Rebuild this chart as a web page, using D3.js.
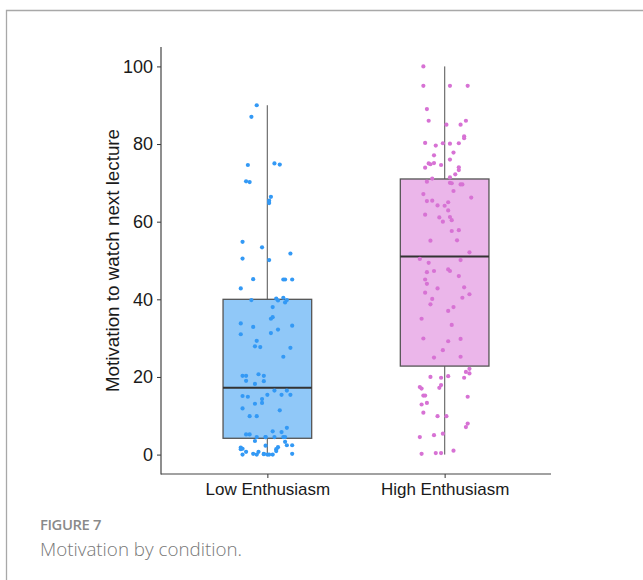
<!DOCTYPE html>
<html><head><meta charset="utf-8">
<script src="https://cdn.jsdelivr.net/npm/d3@7"></script>
<style>html,body{margin:0;padding:0;background:#fff;}svg{display:block;}</style>
</head><body>
<div id="chart"></div>
<script>
// ---- data ----
const categories = ["Low Enthusiasm", "High Enthusiasm"];
const yTicks = [0, 20, 40, 60, 80, 100];
// box stats: [whiskerLow, q1, median, q3, whiskerHigh]
const lowBox  = [0, 4.2, 17.2, 40.0, 90];
const highBox = [0, 22.8, 51.0, 71.0, 100];
// jittered points: [jitter offset (category units), value]
const lowPoints = [
 [-0.06,90],[-0.09,87],[0.04,75],[0.07,74.7],[-0.11,74.6],[-0.12,70.4],[-0.10,70.2],[0.02,66.4],[0.01,65.4],[0.01,64.8],
 [-0.14,54.8],[-0.03,53.4],[0.13,51.8],[-0.14,50.5],[0.01,50.1],[-0.08,45.2],[0.09,45.1],[0.10,45.1],[0.14,45.1],[-0.15,42.8],
 [-0.09,39.8],[0.05,40.2],[0.06,39.7],[0.09,40.4],[0.10,39.2],[0.11,39.8],[0.03,38],[0.02,35],[0.03,35.4],[-0.15,33.8],
 [0.14,33.2],[-0.08,32.9],[-0.15,31],[0.06,32.2],[0.02,31.3],[-0.06,29.3],[-0.07,27.9],[-0.04,27.7],[0.13,27.5],[0.09,25.2],
 [-0.14,20.3],[-0.12,20.3],[-0.05,20.7],[-0.02,20.3],[-0.12,19],[-0.02,18.9],[-0.07,18.2],[0.04,16.5],[0.11,16.5],[-0.14,15.1],
 [-0.11,14.9],[0.00,15.4],[0.08,15.4],[0.13,15.4],[-0.03,14.3],[-0.03,13.3],[-0.07,13.1],[-0.14,11.9],[0.07,11.4],[-0.10,9.9],
 [-0.06,9.9],[0.11,6.9],[0.03,6],[0.08,5.8],[-0.12,5.2],[-0.10,5.2],[-0.06,4.5],[-0.01,4.5],[-0.01,4.5],[0.04,4.5],
 [0.09,4.5],[0.10,4.5],[-0.07,3.5],[0.10,3.3],[-0.01,2.3],[0.11,2.4],[0.14,2.4],[-0.15,1.8],[-0.14,1.5],[-0.15,1.4],
 [0.06,1.9],[0.05,1.4],[0.05,0.9],[-0.12,0.7],[-0.08,0.2],[-0.05,0.7],[-0.06,0],[-0.02,0.2],[-0.02,0.1],[-0.14,0],
 [0.00,0],[0.01,0],[0.03,0],[0.14,0.2]
];
const highPoints = [
 [-0.12,100],[-0.12,95],[0.03,95],[0.13,95],[-0.10,89],[-0.09,86],[0.12,86],[0.01,85],[0.09,85],[0.11,82],
 [0.11,81.5],[-0.11,80.3],[-0.01,80.2],[0.03,80.1],[0.08,80.2],[-0.05,79.6],[0.05,77.8],[-0.06,77.1],[0.03,76],[-0.09,75],
 [-0.08,74.8],[-0.06,75.1],[-0.02,74.6],[-0.11,73.9],[0.08,74],[0.08,73.3],[0.06,72.2],[-0.07,71.1],[0.03,71.4],[-0.10,70.3],
 [0.03,70],[0.04,69.9],[0.09,69.6],[0.10,69.6],[0.05,67.9],[-0.12,67.1],[0.15,66.2],[-0.10,65.3],[-0.07,65.4],[0.02,65],
 [-0.04,64.2],[0.00,64.1],[0.02,62.9],[-0.11,61.8],[-0.03,61.1],[0.03,61.2],[0.04,60.4],[-0.01,60],[0.04,57.6],[0.08,57.8],
 [-0.08,55.1],[0.07,55.2],[0.14,52.1],[-0.14,50.4],[0.09,50.1],[-0.09,49.4],[-0.10,47],[-0.06,47.3],[0.02,47.7],[0.03,47.3],
 [0.08,46],[-0.11,45.1],[-0.10,44],[-0.04,42.8],[0.11,43.1],[-0.11,41.7],[0.14,41.3],[-0.07,40.1],[0.10,40.4],[-0.08,38.7],
 [0.05,38],[0.02,37],[-0.13,35],[0.04,33.4],[-0.12,29.9],[0.02,29.2],[0.09,29.8],[-0.01,26.9],[-0.06,25],[0.09,25.2],
 [0.14,22.1],[0.12,21.3],[0.14,20.9],[-0.08,20],[-0.02,19.8],[0.02,20.2],[0.11,19.8],[-0.14,17.4],[-0.13,17],[-0.02,17.9],
 [-0.03,17.2],[-0.12,15.2],[-0.11,15.2],[0.13,14.9],[-0.13,12.9],[-0.10,13.3],[-0.12,10.8],[-0.04,9.9],[0.01,9.9],[0.13,8],
 [0.12,7.1],[-0.14,4.5],[-0.06,5],[-0.01,5.4],[0.05,1],[-0.13,0.2],[-0.05,0.4],[-0.02,0.4]
];
const boxFills = ["#90c8f8", "#ebb6ea"];
const pointColors = ["#3399f5", "#d772d4"];

// ---- layout ----
const W = 643, H = 580;
const svg = d3.select("#chart").append("svg").attr("width", W).attr("height", H);
const plot = {left: 161, right: 551, top: 47, bottom: 474};

// frame
svg.append("path").attr("d", `M6.5,${H} L6.5,10.5 L${W},10.5`)
  .attr("fill", "none").attr("stroke", "#a8a8a8").attr("stroke-width", 1.3);

const y = d3.scaleLinear().domain([-5, 105]).range([plot.bottom, plot.top]);
const xc = d3.scaleLinear().domain([0.4, 2.6]).range([plot.left, plot.right]);
const xBand = d3.scalePoint().domain(categories).range([xc(1), xc(2)]);
const unit = xc(2) - xc(1);

const font = "'Liberation Sans', Arial, Helvetica, sans-serif";

// axes
const yAxis = d3.axisLeft(y).tickValues(yTicks).tickSize(4).tickPadding(4);
const gy = svg.append("g").attr("transform", `translate(${plot.left},0)`).call(yAxis);
gy.select(".domain").remove();
gy.selectAll(".tick line").attr("stroke", "#333");
gy.selectAll(".tick text").attr("font-family", font).attr("font-size", 18).attr("fill", "#1a1a1a");

const xAxis = d3.axisBottom(xBand).tickSize(4).tickPadding(5);
const gx = svg.append("g").attr("transform", `translate(0,${plot.bottom})`).call(xAxis);
gx.select(".domain").remove();
gx.selectAll(".tick line").attr("stroke", "#333");
gx.selectAll(".tick text").attr("font-family", font).attr("font-size", 17).attr("fill", "#1a1a1a");

svg.append("line").attr("x1", plot.left).attr("x2", plot.left).attr("y1", plot.top).attr("y2", plot.bottom + 0.5)
  .attr("stroke", "#444").attr("stroke-width", 1.2);
svg.append("line").attr("x1", plot.left).attr("x2", plot.right).attr("y1", plot.bottom).attr("y2", plot.bottom)
  .attr("stroke", "#444").attr("stroke-width", 1.2);

svg.append("text").attr("transform", `translate(119,${(plot.top+plot.bottom)/2}) rotate(-90)`)
  .attr("text-anchor", "middle").attr("font-family", font).attr("font-size", 18.8).attr("fill", "#1a1a1a")
  .text("Motivation to watch next lecture");

// boxes
const boxes = [lowBox, highBox];
const points = [lowPoints, highPoints];
const halfW = unit * 0.25;
categories.forEach((c, i) => {
  const cx = xBand(c), b = boxes[i];
  const g = svg.append("g");
  g.append("line").attr("x1", cx).attr("x2", cx).attr("y1", y(b[4])).attr("y2", y(b[3]))
    .attr("stroke", "#777").attr("stroke-width", 1.3);
  g.append("line").attr("x1", cx).attr("x2", cx).attr("y1", y(b[1])).attr("y2", y(b[0]))
    .attr("stroke", "#777").attr("stroke-width", 1.3);
  g.append("rect").attr("x", cx - halfW).attr("width", 2*halfW)
    .attr("y", y(b[3])).attr("height", y(b[1]) - y(b[3]))
    .attr("fill", boxFills[i]).attr("stroke", "#555").attr("stroke-width", 1.3);
  g.append("line").attr("x1", cx - halfW).attr("x2", cx + halfW).attr("y1", y(b[2])).attr("y2", y(b[2]))
    .attr("stroke", "#333").attr("stroke-width", 2);
  g.selectAll("circle").data(points[i]).join("circle")
    .attr("cx", d => cx + d[0]*unit).attr("cy", d => y(d[1])).attr("r", 2.1)
    .attr("fill", pointColors[i]);
});

// caption
svg.append("text").attr("x", 40).attr("y", 530).attr("font-family", "'Open Sans', sans-serif")
  .attr("font-size", 14.8).attr("fill", "#8a8a8a").attr("font-weight", 600).attr("letter-spacing", -0.4).text("FIGURE 7");
svg.append("text").attr("x", 40).attr("y", 556).attr("font-family", "'Open Sans', sans-serif")
  .attr("font-size", 18.8).attr("fill", "#777").attr("font-weight", 300).text("Motivation by condition.");
</script>
</body></html>
